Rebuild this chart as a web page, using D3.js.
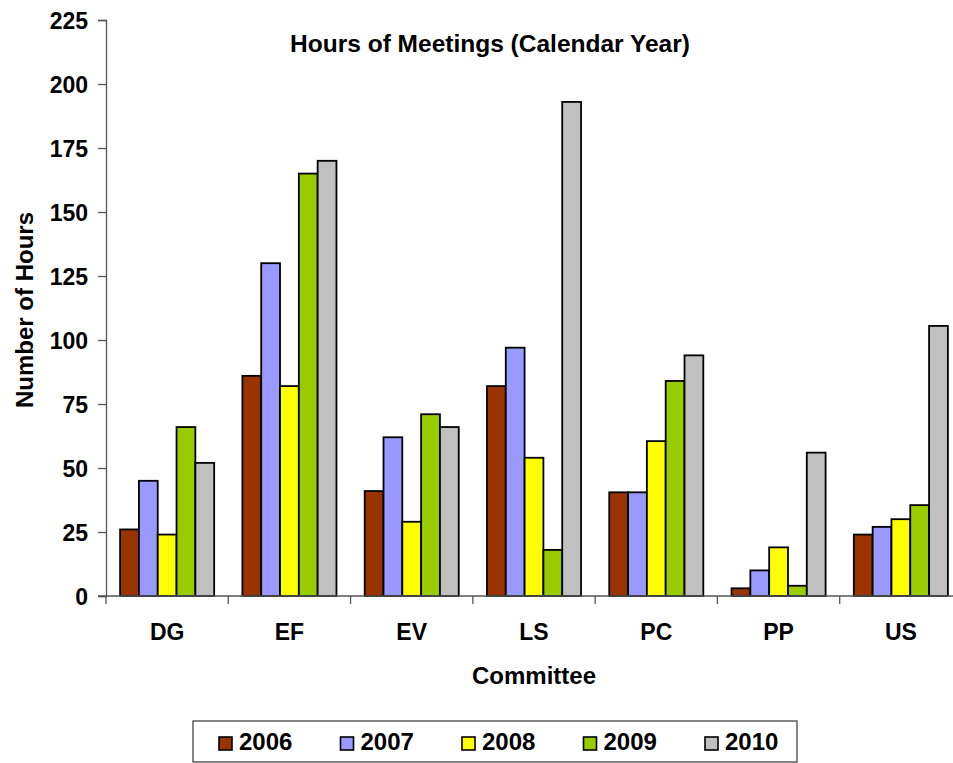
<!DOCTYPE html>
<html>
<head>
<meta charset="utf-8">
<script src="https://cdn.jsdelivr.net/npm/d3@7"></script>
<style>
  body { margin: 0; background: #fff; }
  text { font-family: "Liberation Sans", Arial, sans-serif; font-weight: bold; fill: #000; }
</style>
</head>
<body>
<svg width="953" height="763"></svg>
<script>
var committees = ["DG", "EF", "EV", "LS", "PC", "PP", "US"];
var years = ["2006", "2007", "2008", "2009", "2010"];
var colors = ["#993300", "#9999FF", "#FFFF00", "#99CC00", "#C0C0C0"];
var hours2006 = [26, 86, 41, 82, 40.5, 3, 24];
var hours2007 = [45, 130, 62, 97, 40.5, 10, 27];
var hours2008 = [24, 82, 29, 54, 60.5, 19, 30];
var hours2009 = [66, 165, 71, 18, 84, 4, 35.5];
var hours2010 = [52, 170, 66, 193, 94, 56, 105.5];
var yTicks = [0, 25, 50, 75, 100, 125, 150, 175, 200, 225];

var series = [hours2006, hours2007, hours2008, hours2009, hours2010];
var table = committees.map(function(c, i) {
    return { name: c, values: years.map(function(y, j) { return { year: y, value: series[j][i] }; }) };
});

var svg = d3.select("svg");
var plotLeft = 106, plotRight = 962, plotTop = 20, plotBottom = 596;

var x0 = d3.scaleBand().domain(committees).range([plotLeft, plotRight]);
var bw = x0.bandwidth();
var barW = bw / 6.5; // excel gap width 150%
var x1 = d3.scaleBand().domain(years).range([barW * 0.75, bw - barW * 0.75]);
var y = d3.scaleLinear().domain([0, 225]).range([plotBottom, plotTop]);
var color = d3.scaleOrdinal().domain(years).range(colors);

// bars
svg.append("g")
    .selectAll("g")
    .data(table)
    .enter()
    .append("g")
    .attr("transform", d => "translate(" + x0(d.name) + ",0)")
    .selectAll("rect")
    .data(d => d.values)
    .enter()
    .append("rect")
    .attr("x", d => x1(d.year))
    .attr("width", x1.bandwidth())
    .attr("y", d => y(d.value))
    .attr("height", d => y(0) - y(d.value))
    .attr("fill", d => color(d.year))
    .attr("stroke", "#000")
    .attr("stroke-width", 1.8);

// y axis
var yAxis = svg.append("g")
    .attr("transform", "translate(" + plotLeft + ",0)")
    .call(d3.axisLeft(y).tickValues(yTicks).tickSize(8).tickPadding(10));
yAxis.selectAll("text").style("font-size", "23px").attr("dy", "0.36em");
yAxis.select(".domain").attr("stroke", "#555").attr("stroke-width", 1.3);
yAxis.selectAll(".tick line").attr("stroke", "#555").attr("stroke-width", 1.3);

// x axis
var xAxis = svg.append("g")
    .attr("transform", "translate(0," + plotBottom + ")");
xAxis.append("line")
    .attr("x1", plotLeft - 8).attr("x2", plotRight)
    .attr("stroke", "#555").attr("stroke-width", 1.3);
xAxis.selectAll(".sep")
    .data(committees.concat(["end"]))
    .enter()
    .append("line")
    .attr("class", "sep")
    .attr("x1", (d, i) => plotLeft + i * bw)
    .attr("x2", (d, i) => plotLeft + i * bw)
    .attr("y1", 0).attr("y2", 8)
    .attr("stroke", "#555").attr("stroke-width", 1.3);
xAxis.selectAll(".lbl")
    .data(committees)
    .enter()
    .append("text")
    .attr("class", "lbl")
    .attr("x", d => x0(d) + bw / 2)
    .attr("y", 44)
    .attr("text-anchor", "middle")
    .style("font-size", "23px")
    .text(d => d);

// titles
svg.append("text")
    .attr("x", 490).attr("y", 52)
    .attr("text-anchor", "middle")
    .style("font-size", "24.5px")
    .text("Hours of Meetings (Calendar Year)");

svg.append("text")
    .attr("x", (plotLeft + plotRight) / 2).attr("y", 684)
    .attr("text-anchor", "middle")
    .style("font-size", "24px")
    .text("Committee");

svg.append("text")
    .attr("transform", "translate(33," + ((plotTop + plotBottom) / 2 + 2) + ") rotate(-90)")
    .attr("text-anchor", "middle")
    .style("font-size", "24px")
    .text("Number of Hours");

// legend
var legend = svg.append("g");
legend.append("rect")
    .attr("x", 193).attr("y", 721)
    .attr("width", 604).attr("height", 41)
    .attr("fill", "#fff")
    .attr("stroke", "#444").attr("stroke-width", 1.3);
var item = legend.selectAll(".item")
    .data(years)
    .enter()
    .append("g")
    .attr("class", "item")
    .attr("transform", (d, i) => "translate(" + (219 + i * 121.5) + ",737)");
item.append("rect")
    .attr("width", 13).attr("height", 13)
    .attr("fill", d => color(d))
    .attr("stroke", "#000").attr("stroke-width", 1.6);
item.append("text")
    .attr("x", 20).attr("y", 12.5)
    .style("font-size", "24px")
    .text(d => d);
</script>
</body>
</html>
